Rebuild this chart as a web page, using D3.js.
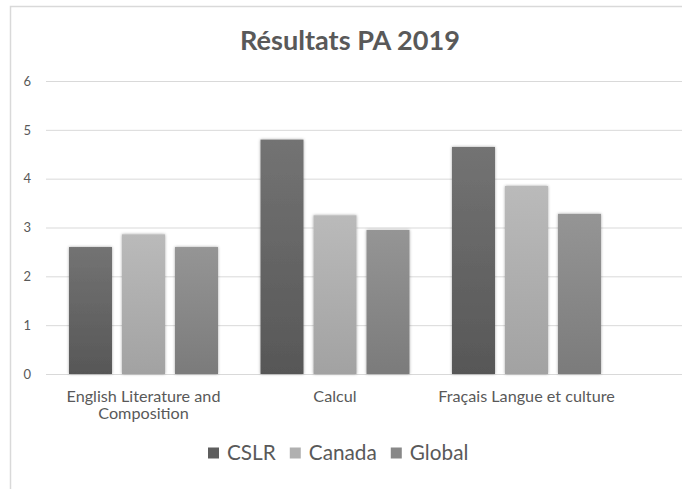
<!DOCTYPE html>
<html><head><meta charset="utf-8">
<script src="https://cdn.jsdelivr.net/npm/d3@7"></script>
<style>body{margin:0;background:#fff}svg{display:block}</style>
</head><body>
<script>
// ---- data ----
const title = "Résultats PA 2019";
const categories = ["English Literature and Composition", "Calcul", "Fraçais Langue et culture"];
const series = ["CSLR", "Canada", "Global"];
const cslrValues = [2.6, 4.8, 4.65];
const canadaValues = [2.86, 3.25, 3.85];
const globalValues = [2.6, 2.95, 3.28];
const yTicks = [0, 1, 2, 3, 4, 5, 6];

const seriesValues = [cslrValues, canadaValues, globalValues];
const colors = {CSLR: ["#737373", "#575757"], Canada: ["#bababa", "#a2a2a2"], Global: ["#959595", "#7b7b7b"]};
const legendColors = {CSLR: "#5e5e5e", Canada: "#b0b0b0", Global: "#888888"};

const W = 682, H = 489;
const FONT = "Lato, 'Noto Sans', sans-serif";
const TXT = "#595959";

const svg = d3.select("body").append("svg").attr("width", W).attr("height", H);
svg.append("rect").attr("width", W).attr("height", H).attr("fill", "#fff");

const defs = svg.append("defs");
series.forEach(s => {
  const g = defs.append("linearGradient").attr("id", "g_" + s).attr("x1", 0).attr("y1", 0).attr("x2", 0).attr("y2", 1);
  g.append("stop").attr("offset", "0%").attr("stop-color", colors[s][0]);
  g.append("stop").attr("offset", "100%").attr("stop-color", colors[s][1]);
});
const f = defs.append("filter").attr("id", "shadow").attr("x", "-20%").attr("y", "-20%").attr("width", "140%").attr("height", "140%");
f.append("feDropShadow").attr("dx", 0).attr("dy", 0).attr("stdDeviation", 1.6).attr("flood-color", "#000").attr("flood-opacity", 0.35);

// chart border (left & top visible)
svg.append("path").attr("d", `M10.5,${H} V6.5 H${W}`).attr("fill", "none").attr("stroke", "#d9d9d9").attr("stroke-width", 1.5);

// helper: fit font size to a target width
function fitSize(text, weight, target) {
  const t = svg.append("text").attr("font-family", FONT).attr("font-weight", weight).attr("font-size", 100).text(text);
  const w = t.node().getComputedTextLength();
  t.remove();
  return 100 * target / w;
}

// title
svg.append("text").attr("x", 350).attr("y", 50).attr("text-anchor", "middle")
  .attr("font-family", FONT).attr("font-weight", "bold").attr("fill", TXT)
  .attr("font-size", fitSize(title, "bold", 220)).text(title);

// scales
const y = d3.scaleLinear().domain([0, 6]).range([374, 81]);
const x0 = d3.scaleBand().domain(categories).range([47.75, 622.25]).paddingInner(0.222).paddingOuter(0.111);
const x1 = d3.scaleBand().domain(series).range([0, x0.bandwidth()]).paddingInner(0.189);

// y axis + gridlines
const gx = 46;
const yAxis = svg.append("g").attr("transform", `translate(${gx},0)`)
  .call(d3.axisLeft(y).tickValues(yTicks).tickSize(-(W - gx)).tickPadding(15).tickFormat(d3.format("d")));
yAxis.select(".domain").remove();
yAxis.selectAll(".tick line").attr("stroke", "#d9d9d9").attr("stroke-width", 1);
yAxis.selectAll(".tick text").attr("font-family", FONT).attr("font-size", 13).attr("fill", TXT);

// bars
const groups = svg.append("g").selectAll("g").data(categories).join("g")
  .attr("transform", d => `translate(${x0(d)},0)`);
groups.selectAll("rect").data((c, i) => series.map((s, k) => ({s, v: seriesValues[k][i]}))).join("rect")
  .attr("x", d => x1(d.s)).attr("width", x1.bandwidth())
  .attr("y", d => y(d.v)).attr("height", d => y(0) - y(d.v))
  .attr("fill", d => `url(#g_${d.s})`).attr("filter", "url(#shadow)");

// category labels (wrapped)
const catSize = fitSize("English Literature and", "normal", 154);
function wrapLines(text, maxW) {
  const words = text.split(" ");
  const lines = [];
  let cur = "";
  words.forEach(w => {
    const test = cur ? cur + " " + w : w;
    const t = svg.append("text").attr("font-family", FONT).attr("font-size", catSize).text(test);
    const tw = t.node().getComputedTextLength(); t.remove();
    if (tw > maxW && cur) { lines.push(cur); cur = w; } else cur = test;
  });
  if (cur) lines.push(cur);
  return lines;
}
categories.forEach(c => {
  const lines = wrapLines(c, 180);
  const t = svg.append("text").attr("text-anchor", "middle").attr("font-family", FONT)
    .attr("font-size", catSize).attr("fill", TXT);
  lines.forEach((ln, i) => t.append("tspan").attr("x", x0(c) + x0.bandwidth() / 2).attr("y", 401.5 + i * 17.5).text(ln));
});

// legend
const legSize = fitSize("Canada", "normal", 68);
let lx = 208;
series.forEach(s => {
  svg.append("rect").attr("x", lx).attr("y", 447.5).attr("width", 11).attr("height", 11).attr("fill", legendColors[s]);
  const t = svg.append("text").attr("x", lx + 19).attr("y", 459.5).attr("font-family", FONT)
    .attr("font-size", legSize).attr("fill", TXT).text(s);
  lx += 19 + t.node().getComputedTextLength() + 14;
});
</script>
</body></html>
